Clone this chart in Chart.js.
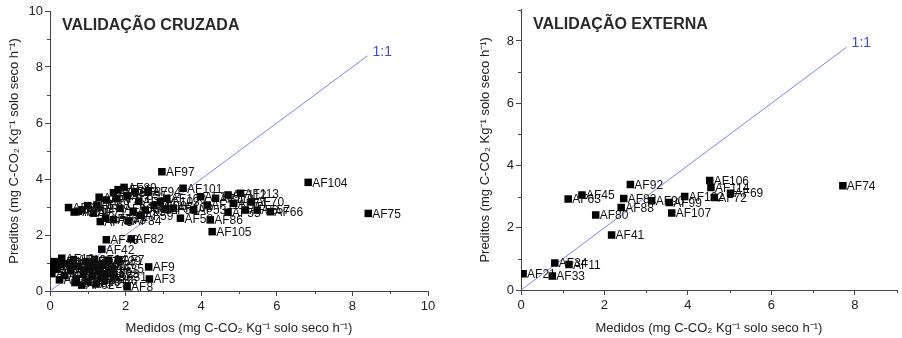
<!DOCTYPE html>
<html>
<head>
<meta charset="utf-8">
<script src="https://cdn.jsdelivr.net/npm/chart.js@4.4.1/dist/chart.umd.min.js"></script>
<style>
  html, body { margin: 0; padding: 0; background: #fff; }
  #wrap { position: relative; width: 902px; height: 338px; }
  canvas { position: absolute; top: 0; }
  #cv { left: 0; }
  #ev { left: 451px; }
</style>
</head>
<body>
<div id="wrap">
  <canvas id="cv" width="451" height="338"></canvas>
  <canvas id="ev" width="451" height="338"></canvas>
</div>
<script>
// Validação cruzada (left panel)
const cvNames = [
  'AF1','AF2','AF4','AF5','AF18','AF6','AF10','AF12','AF13','AF14',
  'AF15','AF62','AF16','AF17','AF19','AF20','AF23','AF24','AF25','AF26',
  'AF22','AF27','AF28','AF35','AF7','AF29','AF30','AF31','AF9','AF3',
  'AF8','AF42','AF43','AF82','AF32','AF36','AF37','AF38','AF39','AF40',
  'AF44','AF46',
  'AF60','AF61','AF50','AF64','AF65','AF68','AF71','AF73','AF76','AF77',
  'AF78','AF79','AF81','AF89','AF83','AF84','AF85','AF87','AF91','AF93',
  'AF94','AF95','AF96','AF98','AF97','AF100','AF101','AF103','AF52','AF108',
  'AF58','AF109','AF110','AF111','AF86','AF105','AF53','AF112','AF113','AF54',
  'AF55','AF56','AF70','AF57','AF66','AF104','AF75','AF59','AF67'
];
const cvMeasured = [
  0.02, 0.05, 0.12, 0.20, 0.31, 0.38, 0.45, 0.55, 0.62, 0.70,
  0.75, 0.84, 0.88, 0.95, 1.00, 1.05, 1.12, 1.18, 1.22, 1.30,
  1.35, 1.42, 1.50, 1.62, 1.81, 1.55, 0.25, 1.70, 2.61, 2.63,
  2.04, 1.37, 1.49, 2.15, 0.10, 0.30, 0.58, 0.66, 0.92, 1.10,
  1.25, 1.45,
  0.49, 0.64, 0.75, 0.85, 1.00, 1.24, 1.15, 1.33, 1.47, 1.49,
  1.68, 1.68, 1.80, 1.96, 1.75, 2.08, 2.05, 2.25, 2.35, 2.52,
  2.60, 2.20, 1.85, 2.75, 2.96, 3.09, 3.52, 2.92, 3.05, 3.26,
  3.45, 3.98, 4.38, 4.16, 4.24, 4.29, 3.80, 4.71, 5.04, 4.86,
  4.71, 5.17, 5.33, 5.48, 5.83, 6.83, 8.42, 2.40, 1.30
];
const cvPredicted = [
  0.95, 0.62, 1.05, 0.78, 1.17, 0.55, 0.98, 0.72, 1.12, 0.42,
  0.88, 0.21, 0.60, 1.05, 0.35, 0.80, 0.55, 1.12, 0.25, 0.70,
  0.45, 0.95, 0.62, 0.80, 1.12, 1.10, 0.40, 0.50, 0.86, 0.43,
  0.15, 1.49, 1.83, 1.86, 0.80, 0.95, 0.90, 0.30, 0.75, 0.95,
  0.85, 0.38,
  2.98, 2.82, 2.85, 2.90, 3.05, 3.07, 2.78, 2.48, 2.60, 3.25,
  2.55, 3.51, 3.62, 3.70, 3.30, 2.50, 3.40, 3.55, 3.20, 2.89,
  3.55, 2.85, 2.95, 3.05, 4.26, 3.31, 3.67, 3.19, 2.92, 2.96,
  2.60, 3.37, 3.31, 3.07, 2.54, 2.12, 2.90, 3.43, 3.49, 3.13,
  2.81, 2.89, 3.18, 2.89, 2.83, 3.88, 2.77, 2.70, 3.35
];
const cvLine = [0, 8.4];

// Validação externa (right panel)
const evNames = [
  'AF21','AF33','AF34','AF11','AF63','AF45','AF80','AF41','AF88','AF82',
  'AF92','AF90','AF99','AF107','AF102','AF106','AF114','AF72','AF69','AF74'
];
const evMeasured = [
  0.05, 0.75, 0.81, 1.15, 1.13, 1.46, 1.79, 2.17, 2.40, 2.46,
  2.62, 3.13, 3.55, 3.61, 3.92, 4.52, 4.55, 4.63, 5.02, 7.71
];
const evPredicted = [
  0.52, 0.45, 0.87, 0.82, 2.92, 3.05, 2.41, 1.77, 2.65, 2.94,
  3.39, 2.87, 2.81, 2.47, 3.00, 3.52, 3.29, 2.97, 3.11, 3.35
];
const evLine = [0, 7.8];

const cvTitle = 'VALIDAÇÃO CRUZADA';
const evTitle = 'VALIDAÇÃO EXTERNA';
const xTitle = 'Medidos (mg C-CO\u2082 Kg\u207B\u00B9 solo seco h\u207B\u00B9)';
const yTitle = 'Preditos (mg C-CO\u2082 Kg\u207B\u00B9 solo seco h\u207B\u00B9)';

const FONT = '"Liberation Sans", Arial, sans-serif';
Chart.defaults.font.family = FONT;
Chart.defaults.color = '#222';

// labels next to points, minor ticks, panel title and 1:1 tag
const extras = {
  id: 'extras',
  afterDatasetsDraw(chart, args, opts) {
    const ctx = chart.ctx;
    ctx.save();
    ctx.font = '12px ' + FONT;
    ctx.fillStyle = '#111';
    ctx.textBaseline = 'middle';
    chart.data.datasets.forEach((ds, i) => {
      if (!ds.names) return;
      chart.getDatasetMeta(i).data.forEach((pt, j) => {
        ctx.fillText(ds.names[j], pt.x + 4, pt.y + 1);
      });
    });
    // 1:1 tag at the end of the line
    const lineMeta = chart.getDatasetMeta(1).data;
    const end = lineMeta[lineMeta.length - 1];
    ctx.font = '14px ' + FONT;
    ctx.fillStyle = '#3a4fc4';
    ctx.fillText('1:1', end.x + 5, end.y - 4);
    // panel title
    const area = chart.chartArea;
    ctx.font = 'bold 16px ' + FONT;
    ctx.fillStyle = '#2a2a2a';
    ctx.fillText(opts.title, area.left + 12, opts.titleY);
    ctx.restore();
  },
  afterDraw(chart) {
    const ctx = chart.ctx;
    const x = chart.scales.x, y = chart.scales.y;
    ctx.save();
    ctx.strokeStyle = '#444';
    ctx.lineWidth = 1;
    ctx.beginPath();
    for (let v = 1; v <= x.max; v += 2) {
      const px = Math.round(x.getPixelForValue(v)) + 0.5;
      ctx.moveTo(px, x.top);
      ctx.lineTo(px, x.top + 3);
    }
    for (let v = 1; v <= y.max; v += 2) {
      const py = Math.round(y.getPixelForValue(v)) + 0.5;
      ctx.moveTo(y.right, py);
      ctx.lineTo(y.right - 3, py);
    }
    ctx.stroke();
    ctx.restore();
  }
};

function axis(max, text, isY, size) {
  return {
    type: 'linear',
    min: 0,
    max: max,
    ticks: { stepSize: 2, color: '#222', font: { size: 13 }, padding: isY ? 2 : 3, maxRotation: 0, autoSkip: false },
    afterBuildTicks: s => { s.ticks = s.ticks.filter(t => t.value % 2 === 0); },
    grid: { drawOnChartArea: false, drawTicks: true, tickLength: 5, color: '#444', tickColor: '#444' },
    border: { display: true, color: '#444', width: 1 },
    title: { display: true, text: text, color: '#222', font: { size: 13 }, padding: { top: 7, bottom: 2 } },
    afterFit: s => { if (isY) s.width = size; else s.height = size; }
  };
}

function makeChart(id, names, xs, ys, line, maxX, maxY, padding, xH, title, titleY) {
  const pts = xs.map((v, i) => ({ x: v, y: ys[i] }));
  return new Chart(document.getElementById(id), {
    type: 'scatter',
    data: {
      datasets: [
        {
          data: pts,
          names: names,
          pointStyle: 'rect',
          pointRadius: 5.3,
          pointBackgroundColor: '#000',
          pointBorderWidth: 0
        },
        {
          data: line.map(v => ({ x: v, y: v })),
          showLine: true,
          borderColor: '#7a88de',
          borderWidth: 1,
          pointRadius: 0
        }
      ]
    },
    options: {
      responsive: false,
      animation: false,
      layout: { padding: padding },
      scales: {
        x: axis(maxX, xTitle, false, xH),
        y: axis(maxY, yTitle, true, 50)
      },
      plugins: {
        legend: { display: false },
        tooltip: { enabled: false },
        extras: { title: title, titleY: titleY }
      }
    },
    plugins: [extras]
  });
}

makeChart('cv', cvNames, cvMeasured, cvPredicted, cvLine, 10, 10,
  { left: 0, right: 23, top: 11, bottom: 0 }, 47, cvTitle, 26);
makeChart('ev', evNames, evMeasured, evPredicted, evLine, 9, 9,
  { left: 20, right: 4, top: 7, bottom: 0 }, 48, evTitle, 25);
</script>
</body>
</html>
